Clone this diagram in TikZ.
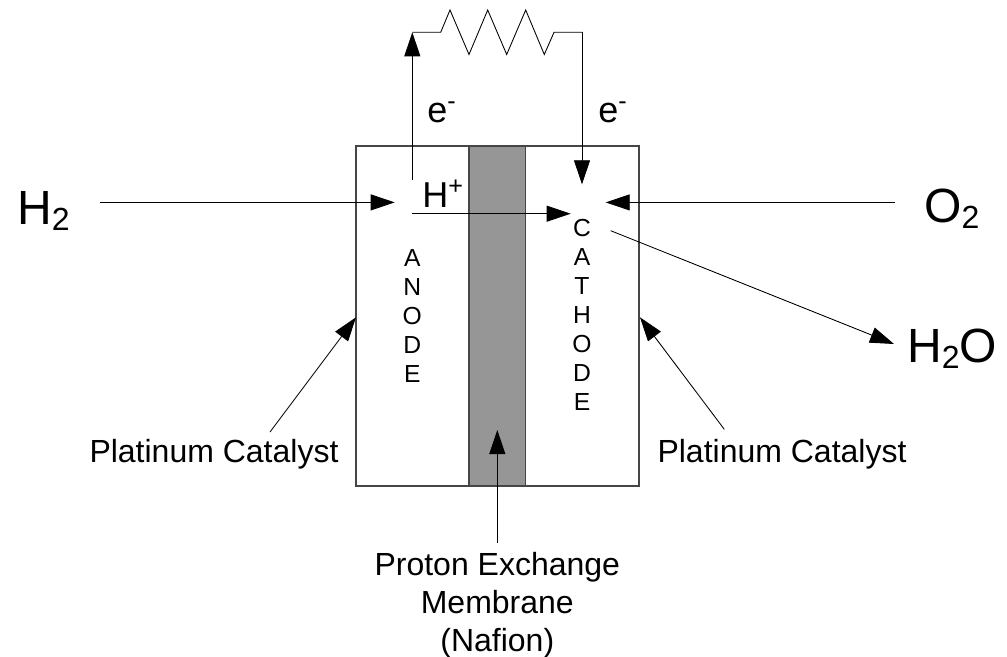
\documentclass[tikz,border=0pt]{standalone}
\usepackage{fontspec}
\setmainfont{Liberation Sans}
\usepackage{tikz}
\usetikzlibrary{arrows.meta}

\definecolor{membranegray}{RGB}{150,150,150}
\definecolor{edgegray}{RGB}{70,70,70}
\newcommand{\lowtwo}{\raisebox{-4.5pt}{\fontsize{24}{24}\selectfont 2}}

\tikzset{
  wire/.style={line width=0.65pt,black},
  flow/.style={wire,-{Triangle[length=18pt,width=12pt]}},
  celledge/.style={line width=0.95pt,edgegray},
  bigtext/.style={anchor=base west,inner sep=0pt,font=\fontsize{36}{36}\selectfont},
  labeltext/.style={inner sep=0pt,align=center,font=\fontsize{24}{28.5}\selectfont},
  chargetext/.style={anchor=base west,inner sep=0pt,font=\fontsize{27}{27}\selectfont},
  lettertext/.style={anchor=north,inner sep=0pt,align=center,font=\fontsize{18.5}{21.75}\selectfont}
}

\begin{document}
\begin{tikzpicture}[x=0.75pt,y=0.75pt,yscale=-1,xscale=1]
\useasboundingbox (0,0) rectangle (1007,657);

%Cell body
\draw [celledge,fill=white] (356,146) rectangle (639,486);
%Membrane
\draw [celledge,fill=membranegray] (469,146) rectangle (525.7,486);

%Free ends
\coordinate (anodeout) at (412.3,180);
\coordinate (wirel) at (412.3,32.3);
\coordinate (wirer) at (582,32.3);
\coordinate (cathodein) at (582,184.3);
\coordinate (htail) at (100,202.4);
\coordinate (hhead) at (394.7,202.4);
\coordinate (otail) at (895,202.4);
\coordinate (ohead) at (605.7,202.4);
\coordinate (ptail) at (412.3,213.7);
\coordinate (phead) at (570.7,213.7);
\coordinate (wtail) at (610.7,230.7);
\coordinate (whead) at (894,344);
\coordinate (catltail) at (270,432);
\coordinate (catlhead) at (356,317.3);
\coordinate (catrtail) at (724.3,429.3);
\coordinate (catrhead) at (640,317.3);
\coordinate (memtail) at (497.3,542.7);
\coordinate (memhead) at (497.3,430);

%External circuit
\draw [flow] (anodeout) -- (wirel);
\draw [wire] (wirel) -- (440.7,32.3) -- (450,10) -- (469,54.5) -- (487.7,10) -- (506.7,54.5) -- (525.7,10) -- (544.3,54.5) -- (554,32.3) -- (wirer);
\draw [flow] (wirer) -- (cathodein);

%Gas and proton flow
\draw [flow] (htail) -- (hhead);
\draw [flow] (otail) -- (ohead);
\draw [flow] (ptail) -- (phead);
\draw [flow] (wtail) -- (whead);

%Pointers
\draw [flow] (catltail) -- (catlhead);
\draw [flow] (catrtail) -- (catrhead);
\draw [flow] (memtail) -- (memhead);

% Text Node
\node (hyd) [bigtext] at (17,224) {H\lowtwo};
% Text Node
\node (oxy) [bigtext] at (924,222) {O\lowtwo};
% Text Node
\node (wat) [bigtext] at (907,362) {H\lowtwo O};
% Text Node
\node (proton) [chargetext] at (422,207) {H\textsuperscript{+}};
% Text Node
\node (eleft) [chargetext] at (427,122) {e\textsuperscript{-}};
% Text Node
\node (eright) [chargetext] at (598,122) {e\textsuperscript{-}};
% Text Node
\node (anode) [lettertext] at (412.3,249) {A\\N\\O\\D\\E};
% Text Node
\node (cathode) [lettertext] at (582,219) {C\\A\\T\\H\\O\\D\\E};
% Text Node
\node (catl) [labeltext,anchor=base] at (214,462) {Platinum Catalyst};
% Text Node
\node (catr) [labeltext,anchor=base] at (782,462) {Platinum Catalyst};
% Text Node
\node (mem) [labeltext,anchor=north] at (497.3,552.5) {Proton Exchange\\Membrane\\(Nafion)};

\end{tikzpicture}
\end{document}
